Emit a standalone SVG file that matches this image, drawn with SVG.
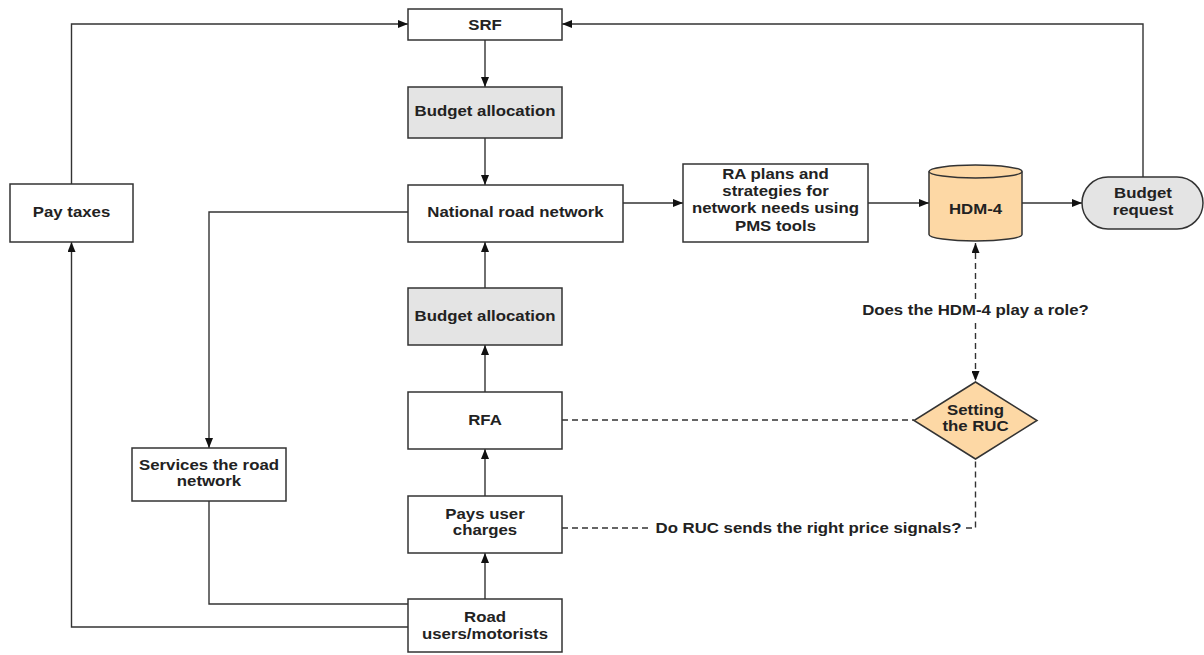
<svg xmlns="http://www.w3.org/2000/svg" width="1204" height="655" viewBox="0 0 1204 655">
<defs>
<style>
.box{fill:#fff;stroke:#333;stroke-width:1.5}
.gray{fill:#e4e4e4;stroke:#333;stroke-width:1.5}
.peach{fill:#fdd8a5;stroke:#333;stroke-width:1.5}
.ln{fill:none;stroke:#333;stroke-width:1.4}
.dash{fill:none;stroke:#333;stroke-width:1.4;stroke-dasharray:6 4}
text{font-family:"Liberation Sans",Arial,sans-serif;font-weight:bold;font-size:14px;fill:#222;text-anchor:middle}
</style>
<marker id="ah" markerWidth="10" markerHeight="8" refX="10" refY="4" orient="auto" markerUnits="userSpaceOnUse">
<path d="M0,0 L10,4 L0,8 Z" fill="#111"/>
</marker>
<marker id="ahs" markerWidth="10" markerHeight="8" refX="0" refY="4" orient="auto" markerUnits="userSpaceOnUse">
<path d="M10,0 L0,4 L10,8 Z" fill="#111"/>
</marker>
</defs>
<rect width="1204" height="655" fill="#fff"/>

<g id="connectors">
<path class="ln" d="M485,40 L485,87" marker-end="url(#ah)"/>
<path class="ln" d="M485,138 L485,185" marker-end="url(#ah)"/>
<path class="ln" d="M485,288 L485,242" marker-end="url(#ah)"/>
<path class="ln" d="M485,392 L485,345" marker-end="url(#ah)"/>
<path class="ln" d="M485,496 L485,449" marker-end="url(#ah)"/>
<path class="ln" d="M485,599 L485,553" marker-end="url(#ah)"/>
<path class="ln" d="M623,203 L683,203" marker-end="url(#ah)"/>
<path class="ln" d="M868,203 L929,203" marker-end="url(#ah)"/>
<path class="ln" d="M1022,203 L1082,203" marker-end="url(#ah)"/>
<path class="ln" d="M1143,177 L1143,24 L562,24" marker-end="url(#ah)"/>
<path class="ln" d="M71.5,184 L71.5,24 L408,24" marker-end="url(#ah)"/>
<path class="ln" d="M408,627 L71.5,627 L71.5,242" marker-end="url(#ah)"/>
<path class="ln" d="M408,212 L209,212 L209,448" marker-end="url(#ah)"/>
<path class="ln" d="M209,501 L209,604 L408,604"/>
<path class="dash" d="M975.5,243 L975.5,381" marker-start="url(#ahs)" marker-end="url(#ah)"/>
<path class="dash" d="M562,420 L914,420"/>
<path class="dash" d="M562,528 L652,528"/>
<path class="dash" d="M966,528 L975.5,528 L975.5,459"/>
<rect x="858" y="300" width="236" height="20" fill="#fff"/>
<text transform="matrix(1.2 0 0 1 975.5 315)">Does the HDM-4 play a role?</text>
<text transform="matrix(1.2 0 0 1 808.5 533)">Do RUC sends the right price signals?</text>
</g>

<g id="srf">
<rect class="box" x="408" y="9" width="154" height="31"/>
<text transform="matrix(1.2 0 0 1 485 29.5)">SRF</text>
</g>
<g id="budget1">
<rect class="gray" x="408" y="87" width="154" height="51"/>
<text transform="matrix(1.2 0 0 1 485 115.5)">Budget allocation</text>
</g>
<g id="nrn">
<rect class="box" x="408" y="185" width="215" height="57"/>
<text transform="matrix(1.2 0 0 1 515.5 217)">National road network</text>
</g>
<g id="raplans">
<rect class="box" x="683" y="164" width="185" height="78"/>
<text transform="matrix(1.2 0 0 1 775.5 179)"><tspan x="0" y="0">RA plans and</tspan><tspan x="0" y="17.2">strategies for</tspan><tspan x="0" y="34.4">network needs using</tspan><tspan x="0" y="51.6">PMS tools</tspan></text>
</g>
<g id="hdm4">
<path class="peach" d="M929,171.5 L929,234.5 A46.5,6.5 0 0 0 1022,234.5 L1022,171.5 A46.5,6.5 0 0 0 929,171.5 Z"/>
<path class="ln" style="stroke-width:1.5" d="M929,171.5 A46.5,6.5 0 0 0 1022,171.5"/>
<text transform="matrix(1.2 0 0 1 975.5 214)">HDM-4</text>
</g>
<g id="budgetrequest">
<rect class="gray" x="1082" y="177" width="121" height="52" rx="26" ry="26"/>
<text transform="matrix(1.2 0 0 1 1143 198)"><tspan x="0" y="0">Budget</tspan><tspan x="0" y="17">request</tspan></text>
</g>
<g id="paytaxes">
<rect class="box" x="10" y="184" width="123" height="58"/>
<text transform="matrix(1.2 0 0 1 71.5 217)">Pay taxes</text>
</g>
<g id="budget2">
<rect class="gray" x="408" y="288" width="154" height="57"/>
<text transform="matrix(1.2 0 0 1 485 320.5)">Budget allocation</text>
</g>
<g id="rfa">
<rect class="box" x="408" y="392" width="154" height="57"/>
<text transform="matrix(1.2 0 0 1 485 425)">RFA</text>
</g>
<g id="ruc">
<path class="peach" d="M975.5,382 L1037,420.5 L975.5,459 L914,420.5 Z"/>
<text transform="matrix(1.2 0 0 1 975.5 415)"><tspan x="0" y="0">Setting</tspan><tspan x="0" y="16.5">the RUC</tspan></text>
</g>
<g id="services">
<rect class="box" x="132" y="448" width="154" height="53"/>
<text transform="matrix(1.2 0 0 1 209 470)"><tspan x="0" y="0">Services the road</tspan><tspan x="0" y="16.5">network</tspan></text>
</g>
<g id="paysuser">
<rect class="box" x="408" y="496" width="154" height="57"/>
<text transform="matrix(1.2 0 0 1 485 519)"><tspan x="0" y="0">Pays user</tspan><tspan x="0" y="16.5">charges</tspan></text>
</g>
<g id="roadusers">
<rect class="box" x="408" y="599" width="154" height="53"/>
<text transform="matrix(1.2 0 0 1 485 621.5)"><tspan x="0" y="0">Road</tspan><tspan x="0" y="17.5">users/motorists</tspan></text>
</g>
</svg>
